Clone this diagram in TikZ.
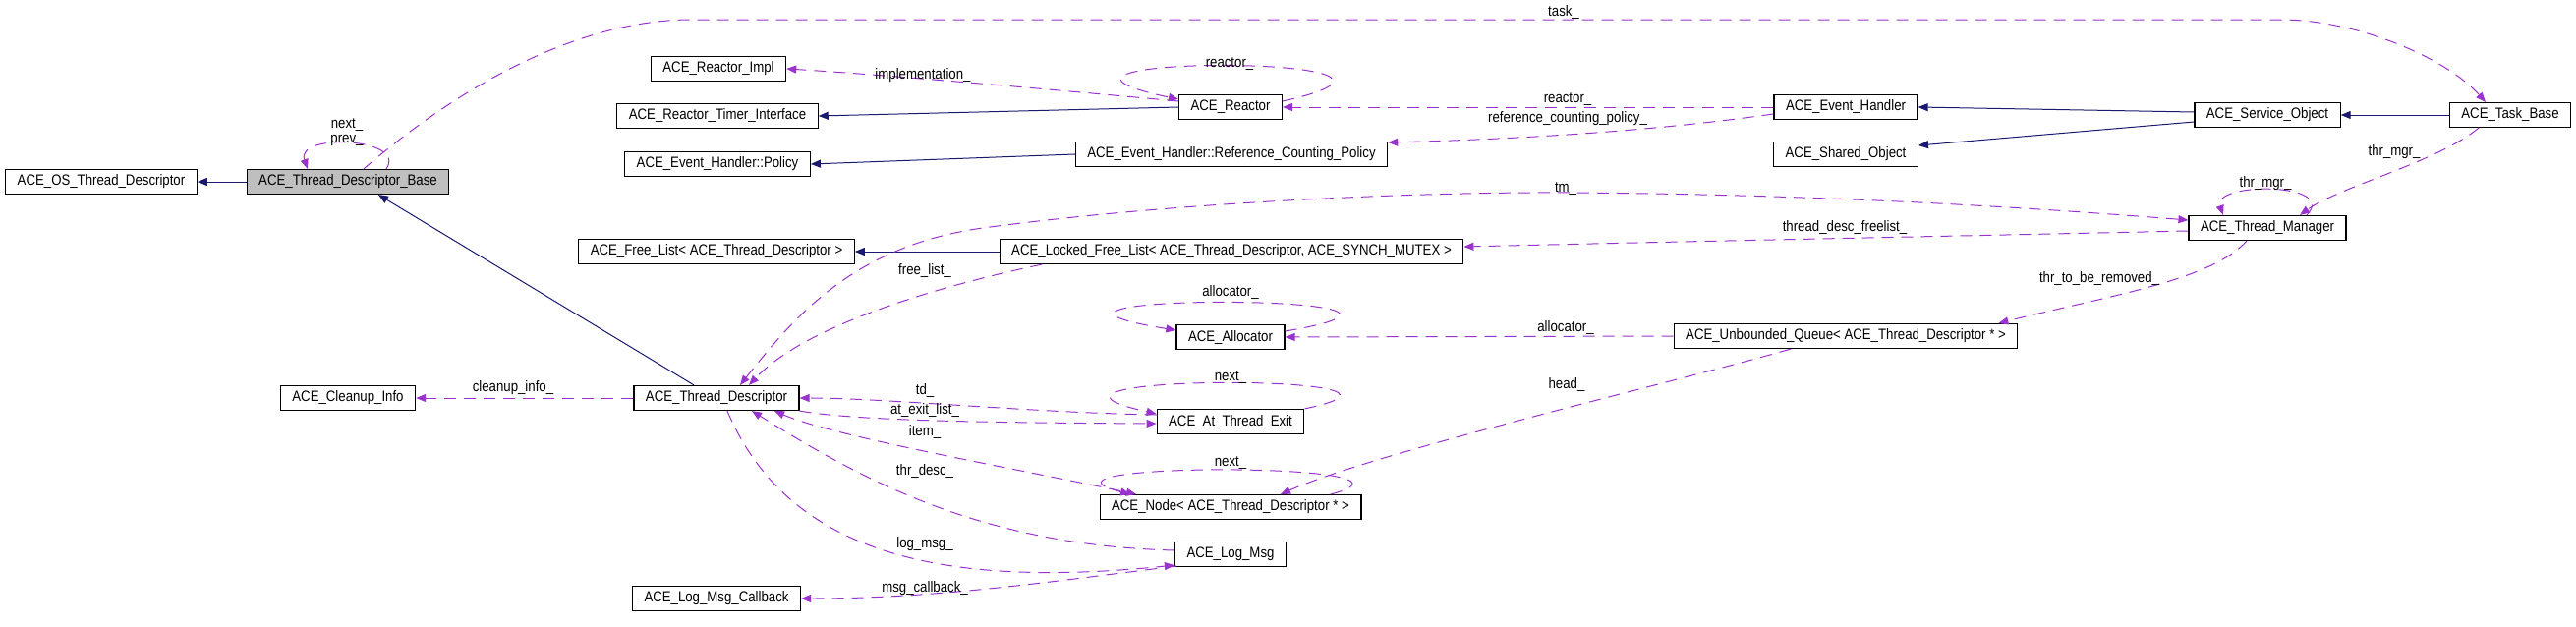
\documentclass[tikz,border=0pt]{standalone}
\usepackage{fontspec}
\setmainfont{Liberation Sans}[FakeStretch=0.87]
\usepackage{xcolor}
\usetikzlibrary{arrows.meta, calc}
\definecolor{edgeuse}{HTML}{9A32CD}
\definecolor{edgeinh}{HTML}{191970}
\definecolor{boxgray}{HTML}{BFBFBF}

\begin{document}
\begin{tikzpicture}[x=0.5pt, y=-0.5pt, font=\fontsize{7.6}{7.6}\selectfont,
  cls/.style={draw, line width=0.6pt, fill=white, inner xsep=6pt, inner ysep=0pt, minimum height=12.5pt},
  inherit/.style={edgeinh, line width=0.5pt, -{Triangle[length=5pt,width=4pt]}},
  member/.style={edgeuse, line width=0.5pt, dash pattern=on 6pt off 4pt, -{Triangle[length=5pt,width=4pt]}},
  memberboth/.style={member, {Triangle[length=5pt,width=4pt]}-{Triangle[length=5pt,width=4pt]}},
  edgelabel/.style={inner sep=0pt}]
  \useasboundingbox (0,0) rectangle (2621,637);

  % Classes, left part
  \node[cls] (ostd) at (103,185) {ACE\_OS\_Thread\_Descriptor};
  \node[cls, fill=boxgray] (base) at (354,185) {ACE\_Thread\_Descriptor\_Base};
  \node[cls] (cinfo) at (354,405) {ACE\_Cleanup\_Info};

  % Classes, middle part
  \node[cls] (rimpl) at (731,70) {ACE\_Reactor\_Impl};
  \node[cls] (rti) at (730,118) {ACE\_Reactor\_Timer\_Interface};
  \node[cls] (policy) at (730,167) {ACE\_Event\_Handler::Policy};
  \node[cls] (flist) at (729,256) {ACE\_Free\_List< ACE\_Thread\_Descriptor >};
  \node[cls] (td) at (729,405) {ACE\_Thread\_Descriptor};
  \node[cls] (cb) at (729,609) {ACE\_Log\_Msg\_Callback};
  \node[cls] (reactor) at (1252,109) {ACE\_Reactor};
  \node[cls] (rcp) at (1253,157) {ACE\_Event\_Handler::Reference\_Counting\_Policy};
  \node[cls] (lflist) at (1253,256) {ACE\_Locked\_Free\_List< ACE\_Thread\_Descriptor, ACE\_SYNCH\_MUTEX >};
  \node[cls] (alloc) at (1252,343) {ACE\_Allocator};
  \node[cls] (ate) at (1252,429) {ACE\_At\_Thread\_Exit};
  \node[cls] (tnode) at (1252,516) {ACE\_Node< ACE\_Thread\_Descriptor * >};
  \node[cls] (logmsg) at (1252,564) {ACE\_Log\_Msg};

  % Classes, right part
  \node[cls] (evh) at (1878,109) {ACE\_Event\_Handler};
  \node[cls] (shobj) at (1878,157) {ACE\_Shared\_Object};
  \node[cls] (queue) at (1878,342) {ACE\_Unbounded\_Queue< ACE\_Thread\_Descriptor * >};
  \node[cls] (svc) at (2307,117) {ACE\_Service\_Object};
  \node[cls] (tmgr) at (2307,232) {ACE\_Thread\_Manager};
  \node[cls] (task) at (2554,117) {ACE\_Task\_Base};

  % Inheritance
  \draw[inherit] (base) -- (ostd);
  \draw[inherit] ($(td.north)+(-23,0)$) -- ($(base.south)+(31,0)$);
  \draw[inherit] (reactor.west) -- (rti.east);
  \draw[inherit] (rcp.west) -- (policy.east);
  \draw[inherit] ($(svc.west)+(0,-3)$) -- (evh.east);
  \draw[inherit] ($(svc.west)+(0,7)$) -- ($(shobj.east)+(0,-9)$);
  \draw[inherit] (task) -- (svc);
  \draw[inherit] (lflist) -- (flist);

  % Members, upper part
  \draw[member] ($(base.north)+(39,0)$) .. controls (415,140) and (300,135) .. ($(base.north)+(-41,0)$);
  \draw[member] ($(base.north)+(16,0)$) .. controls (430,120) and (560,22) .. (700,20) -- (2320,20)
    .. controls (2400,20) and (2490,60) .. ($(task.north)+(-25,0)$);
  \draw[member] ($(reactor.west)+(0,-6)$) .. controls (1080,92) and (900,76) .. (rimpl.east);
  \draw[member] ($(reactor.east)+(0,-6)$) .. controls (1520,55) and (980,55) .. ($(reactor.west)+(0,-8)$);
  \draw[member] (evh.west) -- (reactor.east);
  \draw[member] ($(evh.west)+(0,7)$) .. controls (1720,128) and (1600,140) .. ($(rcp.east)+(0,-12)$);
  \draw[member] ($(task.south)+(-32,0)$) .. controls (2480,165) and (2380,190) .. ($(tmgr.north)+(33,0)$);
  \draw[member] ($(tmgr.north)+(40,0)$) .. controls (2380,185) and (2250,185) .. ($(tmgr.north)+(-45,0)$);

  % Members around the thread descriptor
  \draw[memberboth] ($(td.north)+(24,0)$) .. controls (810,320) and (870,250) .. (1000,232)
    .. controls (1200,205) and (1450,195) .. (1600,196) .. controls (1850,198) and (2050,210) .. ($(tmgr.west)+(0,-8)$);
  \draw[member] ($(tmgr.west)+(0,3)$) .. controls (2000,240) and (1700,246) .. ($(lflist.east)+(0,-5)$);
  \draw[member] ($(lflist.south)+(-193,0)$) .. controls (960,290) and (820,330) .. ($(td.north)+(33,0)$);
  \draw[member] (td.west) -- (cinfo.east);
  \draw[member] ($(alloc.east)+(0,-6)$) .. controls (1540,298) and (960,298) .. ($(alloc.west)+(0,-7)$);
  \draw[member] (queue.west) -- (alloc.east);
  \draw[member] ($(tmgr.south)+(-21,0)$) .. controls (2250,285) and (2150,300) .. ($(queue.north east)+(-20,0)$);
  \draw[member] ($(queue.south)+(-56,0)$) .. controls (1700,390) and (1400,460) .. ($(tnode.north)+(51,0)$);
  \draw[member] ($(ate.west)+(0,-7)$) .. controls (1050,420) and (900,405) .. (td.east);
  \draw[member] (td.south east) .. controls (870,428) and (1000,430) .. ($(ate.west)+(0,2)$);
  \draw[member] (ate.north east) .. controls (1500,380) and (990,380) .. ($(ate.west)+(0,-8)$);
  \draw[member] ($(tnode.north)+(102,0)$) .. controls (1480,470) and (1020,470) .. ($(tnode.north)+(-102,0)$);
  \draw[memberboth] ($(td.south)+(59,0)$) .. controls (850,445) and (1050,480) .. ($(tnode.north)+(-96,0)$);
  \draw[member] ($(logmsg.west)+(0,-4)$) .. controls (1000,555) and (880,490) .. ($(td.south)+(36,0)$);
  \draw[member] ($(td.south)+(11,0)$) .. controls (800,560) and (950,600) .. ($(logmsg.south west)+(0,-2)$);
  \draw[member] ($(logmsg.south west)+(2,-1)$) .. controls (1080,590) and (960,609) .. (cb.east);

  % Edge labels
  \node[edgelabel, align=center] (l-nextprev) at (353,135) {next\_\\prev\_};
  \node[edgelabel] (l-task) at (1591,13) {task\_};
  \node[edgelabel] (l-impl) at (939,77) {implementation\_};
  \node[edgelabel] (l-reactorloop) at (1251,65) {reactor\_};
  \node[edgelabel] (l-reactor) at (1595,101) {reactor\_};
  \node[edgelabel] (l-rcp) at (1595,121) {reference\_counting\_policy\_};
  \node[edgelabel] (l-thrmgr) at (2436,155) {thr\_mgr\_};
  \node[edgelabel] (l-thrmgrloop) at (2305,187) {thr\_mgr\_};
  \node[edgelabel] (l-tm) at (1593,192) {tm\_};
  \node[edgelabel] (l-freelist) at (941,275) {free\_list\_};
  \node[edgelabel] (l-tdfl) at (1877,231) {thread\_desc\_freelist\_};
  \node[edgelabel] (l-allocloop) at (1252,297) {allocator\_};
  \node[edgelabel] (l-alloc) at (1593,333) {allocator\_};
  \node[edgelabel] (l-removed) at (2136,283) {thr\_to\_be\_removed\_};
  \node[edgelabel] (l-head) at (1594,391) {head\_};
  \node[edgelabel] (l-cleanup) at (522,395) {cleanup\_info\_};
  \node[edgelabel] (l-td) at (941,397) {td\_};
  \node[edgelabel] (l-atexit) at (941,417) {at\_exit\_list\_};
  \node[edgelabel] (l-atenext) at (1252,384) {next\_};
  \node[edgelabel] (l-item) at (941,439) {item\_};
  \node[edgelabel] (l-nodenext) at (1252,471) {next\_};
  \node[edgelabel] (l-thrdesc) at (941,479) {thr\_desc\_};
  \node[edgelabel] (l-logmsg) at (941,554) {log\_msg\_};
  \node[edgelabel] (l-cb) at (941,599) {msg\_callback\_};
\end{tikzpicture}
\end{document}
